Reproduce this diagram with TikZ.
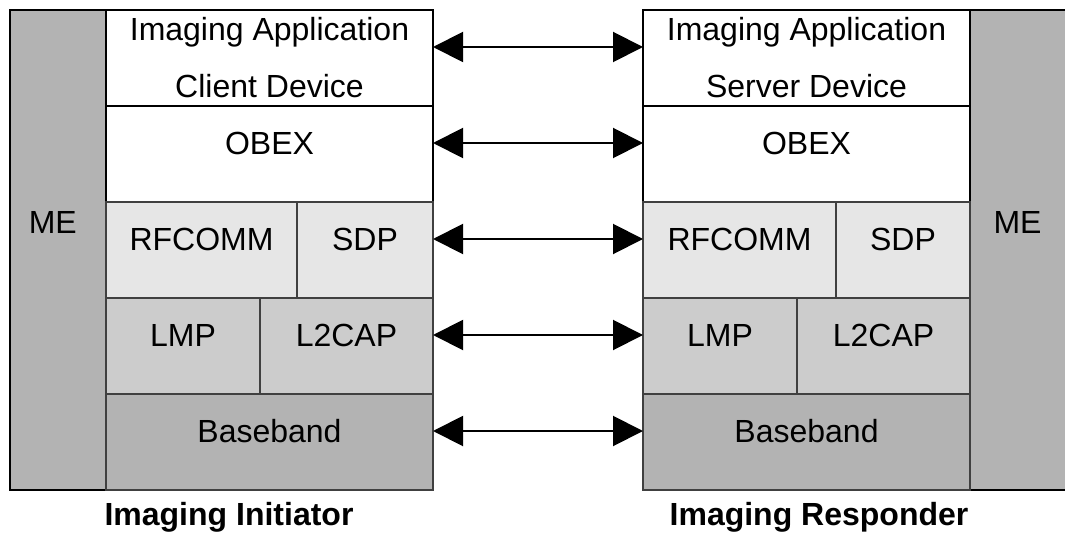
\documentclass[tikz,border=0pt]{standalone}
\usepackage{fontspec}
\setmainfont{Liberation Sans}
\usetikzlibrary{positioning,arrows.meta}
\definecolor{lightgrey}{HTML}{E6E6E6}
\definecolor{midgrey}{HTML}{CCCCCC}
\definecolor{darkgrey}{HTML}{B3B3B3}
\definecolor{edgegrey}{HTML}{404040}

\begin{document}
\begin{tikzpicture}[x=1pt,y=-1pt,
      every node/.append style={font=\fontsize{32}{57}\selectfont,outer sep=0pt,inner sep=0pt,align=center},
      layer/.style={draw=black,line width=2pt,fill=white,minimum height=96pt,anchor=north west},
      raised/.style={text height=23pt,text depth=22pt},
      light layer/.style={layer,raised,draw=edgegrey,fill=lightgrey},
      mid layer/.style={layer,raised,draw=edgegrey,fill=midgrey},
      dark layer/.style={layer,raised,draw=edgegrey,fill=darkgrey},
      link/.style={line width=2pt,{Triangle[length=30pt,width=30pt]}-{Triangle[length=30pt,width=30pt]}}]
    \tikzstyle{caption} = [font=\fontsize{32}{38}\selectfont\bfseries]
    \useasboundingbox (0,0) rectangle (1065,540);

    \node[layer,fill=darkgrey,minimum width=96.5pt,minimum height=480pt] (MEleft) at (9.5,10) {};
    \node (MEleftlabel) at ([xshift=-5pt,yshift=28pt]MEleft.center) {ME};
    \node[layer,fill=darkgrey,minimum width=97pt,minimum height=480pt] (MEright) at (970,10) {};
    \node (MErightlabel) at ([xshift=-1pt,yshift=28pt]MEright.center) {ME};

    \node[layer,minimum width=327pt] (appL) at (106,10) {Imaging Application\\Client Device};
    \node[layer,raised,minimum width=327pt,below=0pt of appL] (obexL) {OBEX};
    \node[light layer,minimum width=191pt,below=0pt of obexL.south west,anchor=north west] (rfcommL) {RFCOMM};
    \node[light layer,minimum width=136pt,right=0pt of rfcommL] (sdpL) {SDP};
    \node[mid layer,minimum width=154pt,below=0pt of rfcommL.south west,anchor=north west] (lmpL) {LMP};
    \node[mid layer,minimum width=173pt,right=0pt of lmpL] (ltwocapL) {L2CAP};
    \node[dark layer,minimum width=327pt,below=0pt of lmpL.south west,anchor=north west] (basebandL) {Baseband};

    \node[layer,minimum width=327pt] (appR) at (643,10) {Imaging Application\\Server Device};
    \node[layer,raised,minimum width=327pt,below=0pt of appR] (obexR) {OBEX};
    \node[light layer,minimum width=193pt,below=0pt of obexR.south west,anchor=north west] (rfcommR) {RFCOMM};
    \node[light layer,minimum width=134pt,right=0pt of rfcommR] (sdpR) {SDP};
    \node[mid layer,minimum width=154pt,below=0pt of rfcommR.south west,anchor=north west] (lmpR) {LMP};
    \node[mid layer,minimum width=173pt,right=0pt of lmpR] (ltwocapR) {L2CAP};
    \node[dark layer,minimum width=327pt,below=0pt of lmpR.south west,anchor=north west] (basebandR) {Baseband};

    \foreach \from/\to in {appL/appR,obexL/obexR,sdpL/rfcommR,ltwocapL/lmpR,basebandL/basebandR}
      \draw[link] ([yshift=11pt]\from.east) -- ([yshift=11pt]\to.west);

    \node[caption] (initiator) at (229,517) {Imaging Initiator};
    \node[caption] (responder) at (819,517) {Imaging Responder};
\end{tikzpicture}
\end{document}
